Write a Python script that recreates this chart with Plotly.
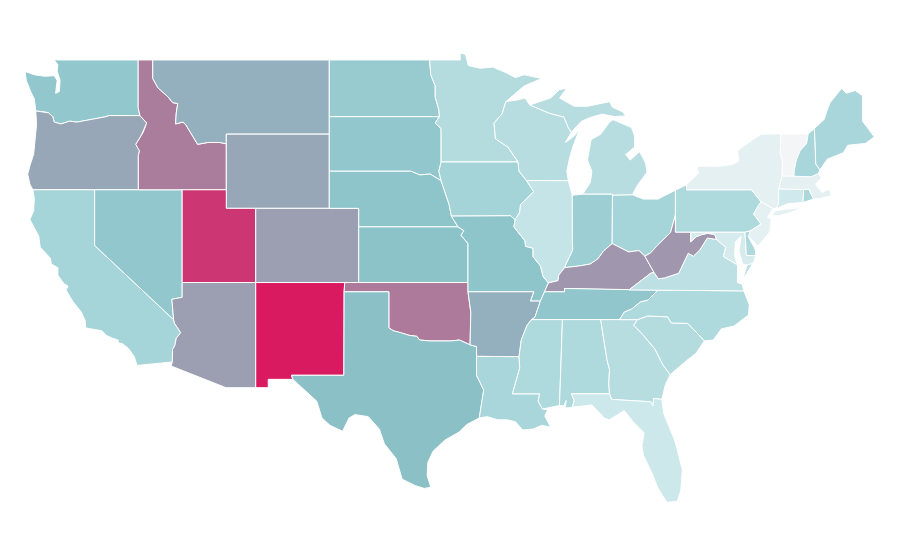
import plotly.graph_objects as go
from plotly.colors import sample_colorscale

# shared state borders as (lon, lat), the base map cannot be fetched offline
wa_north = [(-122.76,49),(-117.04,49)]
wa_coast = [(-122.76,49),(-122.5,48.75),(-122.55,48.4),(-122.35,47.9),(-122.4,47.3),(-122.65,47.2),(-122.55,47.9),(-122.75,48.15),(-123.4,48.12),(-124.1,48.2),(-124.73,48.38),(-124.65,47.9),(-124.35,47.3),(-124.1,46.9),(-124,46.25)]
wa_or = [(-124,46.25),(-123.4,46.2),(-123.15,46.15),(-122.85,45.95),(-122.75,45.65),(-122.3,45.55),(-121.7,45.7),(-121.2,45.65),(-120.6,45.73),(-120,45.82),(-119.3,45.93),(-119,46),(-116.92,46)]
wa_id = [(-117.04,49),(-117.04,46.42),(-116.92,46)]
or_coast = [(-124,46.25),(-123.95,45.5),(-124.05,44.7),(-124.15,43.9),(-124.4,43.3),(-124.55,42.84),(-124.4,42.3),(-124.2,42)]
or_ca = [(-124.2,42),(-120,42)]
or_nv = [(-120,42),(-117.03,42)]
or_id = [(-116.92,46),(-116.46,45.6),(-116.7,45.1),(-116.85,44.9),(-117.2,44.45),(-117.05,44.23),(-116.95,44.1),(-117.03,43.85),(-117.03,42)]
ca_coast = [(-124.2,42),(-124.1,41.5),(-124.15,40.85),(-124.4,40.4),(-124.05,39.9),(-123.8,39.5),(-123.7,38.9),(-123,38.3),(-122.95,38),(-122.5,37.8),(-122.5,37.4),(-122.1,36.95),(-121.8,36.8),(-121.95,36.6),(-121.5,36),(-120.9,35.4),(-120.65,34.95),(-120.6,34.55),(-119.5,34.4),(-119.2,34.15),(-118.8,34),(-118.4,33.9),(-118.4,33.75),(-118.1,33.7),(-117.7,33.45),(-117.3,33),(-117.12,32.53)]
ca_mx = [(-117.12,32.53),(-114.72,32.72)]
ca_az = [(-114.63,35),(-114.57,34.8),(-114.15,34.3),(-114.45,34),(-114.55,33.6),(-114.7,33.4),(-114.72,32.72)]
ca_nv = [(-120,42),(-120,39),(-114.63,35)]
nv_az = [(-114.63,35),(-114.75,36.1),(-114.05,36.2),(-114.05,37)]
nv_ut = [(-114.05,37),(-114.05,42)]
nv_id = [(-117.03,42),(-114.05,42)]
id_north = [(-117.04,49),(-116.05,49)]
id_mt = [(-116.05,49),(-116.05,48),(-115.7,47.5),(-115,47),(-114.7,46.7),(-114.35,46.65),(-114.45,46.15),(-114.5,45.55),(-114,45.65),(-113.8,45.5),(-113.45,45.05),(-113,44.45),(-112.3,44.55),(-111.5,44.55),(-111.05,44.48)]
id_wy = [(-111.05,44.48),(-111.05,42)]
id_ut = [(-114.05,42),(-111.05,42)]
mt_north = [(-116.05,49),(-104.05,49)]
mt_nd = [(-104.05,49),(-104.05,45.94)]
mt_sd = [(-104.05,45.94),(-104.05,45)]
mt_wy = [(-111.05,45),(-104.05,45)]
mt_wy_west = [(-111.05,44.48),(-111.05,45)]
wy_sd = [(-104.05,45),(-104.05,43)]
wy_ne = [(-104.05,43),(-104.05,41)]
wy_co = [(-104.05,41),(-109.05,41)]
wy_ut = [(-109.05,41),(-111.05,41),(-111.05,42)]
ut_co = [(-109.05,41),(-109.05,37)]
ut_az = [(-109.05,37),(-114.05,37)]
co_ne = [(-104.05,41),(-102.05,41),(-102.05,40)]
co_ks = [(-102.05,40),(-102.05,37)]
co_ok = [(-102.05,37),(-103,37)]
co_nm = [(-103,37),(-109.05,37)]
az_nm = [(-109.05,37),(-109.05,31.33)]
az_mx = [(-109.05,31.33),(-111.07,31.33),(-114.8,32.5),(-114.72,32.72)]
nm_ok = [(-103,37),(-103.04,36.5)]
nm_tx = [(-103.04,36.5),(-103.06,32),(-106.62,32),(-106.53,31.78)]
nm_mx = [(-106.53,31.78),(-108.2,31.78),(-108.2,31.33),(-109.05,31.33)]
nd_north = [(-104.05,49),(-97.23,49)]
nd_mn = [(-96.56,45.94),(-96.6,46.3),(-96.85,47),(-96.85,47.6),(-97.15,48.2),(-97.23,49)]
nd_sd = [(-96.56,45.94),(-104.05,45.94)]
sd_mn = [(-96.56,45.94),(-96.85,45.6),(-96.45,45.3),(-96.45,43.5)]
sd_ia = [(-96.45,43.5),(-96.6,43),(-96.45,42.49)]
sd_ne = [(-96.45,42.49),(-97.2,42.85),(-97.9,42.8),(-98.5,43),(-104.05,43)]
ne_ia = [(-96.45,42.49),(-96.1,41.7),(-95.9,41.2),(-95.75,40.58)]
ne_mo = [(-95.75,40.58),(-95.3,40)]
ne_ks = [(-95.3,40),(-102.05,40)]
ks_mo = [(-95.3,40),(-94.9,39.8),(-95.1,39.55),(-94.62,39.1),(-94.62,37)]
ks_ok = [(-94.62,37),(-102.05,37)]
ok_mo = [(-94.62,37),(-94.62,36.5)]
ok_ar = [(-94.62,36.5),(-94.43,35.4),(-94.48,33.64)]
ok_tx = [(-103.04,36.5),(-100,36.5),(-100,34.56),(-99.7,34.4),(-99.2,34.3),(-98.6,34.15),(-98.1,34.1),(-97.9,33.9),(-97.2,33.85),(-96.6,33.85),(-95.8,33.85),(-95.2,33.9),(-94.48,33.64)]
ar_tx = [(-94.48,33.64),(-94.04,33.55),(-94.04,33.02)]
la_tx = [(-94.04,33.02),(-94.04,32),(-93.55,31.2),(-93.7,30.5),(-93.85,29.7)]
tx_coast = [(-93.85,29.7),(-94.7,29.35),(-95.2,28.95),(-96.2,28.5),(-97,27.9),(-97.35,27.3),(-97.4,26.6),(-97.15,25.96)]
tx_mx = [(-97.15,25.96),(-97.6,25.9),(-98.2,26.05),(-99.1,26.4),(-99.5,27.5),(-100.3,28.3),(-100.65,29.1),(-101.4,29.77),(-102.3,29.88),(-102.7,29.7),(-103.15,28.98),(-104,29.3),(-104.55,29.7),(-104.9,30.6),(-106,31.4),(-106.53,31.78)]
mn_north = [(-97.23,49),(-95.15,49),(-95.15,49.38),(-94.8,49.3),(-94.6,48.7),(-93.8,48.55),(-92.95,48.62),(-92,48.3),(-91.4,48.05),(-90.8,48.2),(-89.6,48)]
mn_lake = [(-89.6,48),(-90.8,47.6),(-92.05,46.75)]
mn_wi = [(-92.05,46.75),(-92.3,46.1),(-92.85,45.6),(-92.75,44.75),(-91.9,44.3),(-91.22,43.5)]
mn_ia = [(-91.22,43.5),(-96.45,43.5)]
ia_wi = [(-91.22,43.5),(-91.15,43),(-90.65,42.5)]
ia_il = [(-90.65,42.5),(-90.15,41.9),(-91.05,41.2),(-91.1,40.8),(-91.42,40.38)]
ia_mo = [(-91.42,40.38),(-91.73,40.6),(-95.75,40.58)]
mo_il = [(-91.42,40.38),(-91.5,40),(-90.75,39.25),(-90.7,38.95),(-90.2,38.85),(-90.2,38.4),(-89.7,37.9),(-89.5,37.3),(-89.15,36.98)]
mo_ky = [(-89.15,36.98),(-89.42,36.5)]
mo_tn = [(-89.42,36.5),(-89.7,36)]
mo_ar = [(-89.7,36),(-90.38,36),(-90.15,36.5),(-94.62,36.5)]
ar_tn = [(-89.7,36),(-90.07,35.13),(-90.3,35)]
ar_ms = [(-90.3,35),(-90.6,34.7),(-91,33.9),(-91.15,33)]
ar_la = [(-91.15,33),(-94.04,33.02)]
la_ms = [(-91.15,33),(-91.1,32.4),(-91.6,31),(-89.75,31),(-89.85,30.6),(-89.55,30.18)]
la_coast = [(-89.55,30.18),(-89.2,30.15),(-89.4,29.8),(-89,29.2),(-89.6,29.3),(-90.2,29.1),(-90.9,29.05),(-91.4,29.5),(-92,29.6),(-92.6,29.6),(-93.3,29.77),(-93.85,29.7)]
ms_tn = [(-90.3,35),(-88.2,35)]
ms_al = [(-88.2,35),(-88.4,30.37)]
ms_coast = [(-88.4,30.37),(-89.55,30.18)]
al_tn = [(-88.2,35),(-85.6,35)]
al_ga = [(-85.6,35),(-85.18,32.87),(-85,32.3),(-85.05,31.55),(-85,31)]
al_fl = [(-85,31),(-87.6,31),(-87.4,30.65),(-87.52,30.28)]
al_coast = [(-87.52,30.28),(-88,30.23),(-87.95,30.65),(-88.1,30.35),(-88.4,30.37)]
ga_tn = [(-85.6,35),(-84.32,35)]
ga_nc = [(-84.32,35),(-83.1,35)]
ga_sc = [(-83.1,35),(-83.35,34.7),(-82.75,34.2),(-81.9,33.4),(-81.4,32.6),(-80.88,32.03)]
ga_coast = [(-80.88,32.03),(-81.2,31.5),(-81.45,30.7)]
ga_fl = [(-81.45,30.7),(-82,30.75),(-82.05,30.36),(-82.2,30.57),(-84.86,30.7),(-85,31)]
fl_coast = [(-81.45,30.7),(-81.3,29.9),(-80.6,28.6),(-80.55,28.45),(-80.05,26.9),(-80.15,25.8),(-80.4,25.2),(-81.1,25.15),(-81.7,25.9),(-82.1,26.7),(-82.7,27.7),(-82.8,28.2),(-82.65,28.9),(-83.4,29.5),(-84,30.1),(-85,29.6),(-85.35,29.7),(-86.2,30.4),(-87.52,30.28)]
sc_nc = [(-83.1,35),(-82.4,35.2),(-81.05,35.15),(-80.8,34.82),(-79.68,34.8),(-78.55,33.86)]
sc_coast = [(-78.55,33.86),(-79.1,33.2),(-79.9,32.7),(-80.88,32.03)]
tn_nc = [(-84.32,35),(-84,35.4),(-83.5,35.57),(-82.9,35.95),(-82.4,36.05),(-81.7,36.59)]
nc_va = [(-81.7,36.59),(-75.87,36.55)]
nc_coast = [(-75.87,36.55),(-75.5,35.8),(-75.55,35.25),(-76.55,34.65),(-77.4,34.5),(-77.95,33.9),(-78.55,33.86)]
ky_tn = [(-89.42,36.5),(-88.05,36.5),(-88.05,36.68),(-83.68,36.6)]
tn_va = [(-83.68,36.6),(-81.7,36.59)]
ky_in = [(-84.82,39.1),(-85.4,38.7),(-85.8,38.27),(-86.3,38),(-87,37.9),(-88.05,37.8)]
ky_oh = [(-82.6,38.42),(-83,38.72),(-83.7,38.65),(-84.25,38.85),(-84.82,39.1)]
ky_wv = [(-81.97,37.54),(-82.6,38.42)]
ky_va = [(-83.68,36.6),(-83.1,36.95),(-82.2,37.5),(-81.97,37.54)]
il_ky = [(-88.05,37.8),(-88.45,37.4),(-88.5,37.1),(-89.15,36.98)]
wi_il = [(-90.65,42.5),(-87.8,42.49)]
il_lake = [(-87.8,42.49),(-87.53,41.71)]
il_in = [(-87.53,41.71),(-87.53,39.35),(-87.5,38.75),(-87.95,38),(-88.05,37.8)]
in_lake = [(-87.53,41.71),(-86.82,41.76)]
in_mi = [(-86.82,41.76),(-84.8,41.76),(-84.8,41.7)]
oh_in = [(-84.82,39.1),(-84.8,41.7)]
oh_mi = [(-84.8,41.7),(-83.45,41.73)]
oh_lake = [(-83.45,41.73),(-82.7,41.5),(-81.7,41.5),(-80.52,41.98)]
oh_pa = [(-80.52,41.98),(-80.52,40.64)]
oh_wv = [(-80.52,40.64),(-80.85,39.7),(-81.75,39),(-82.2,38.6),(-82.6,38.42)]
wv_pa = [(-80.52,40.64),(-80.52,39.72),(-79.48,39.72)]
wv_md = [(-79.48,39.72),(-79.48,39.2),(-79.1,39.47),(-78.75,39.58),(-78.35,39.65),(-77.85,39.6),(-77.72,39.32)]
wv_va = [(-77.72,39.32),(-78.35,39.4),(-78.87,38.75),(-79.3,38.42),(-79.65,38.58),(-80.3,37.5),(-81.25,37.25),(-81.68,37.2),(-81.97,37.54)]
va_coast = [(-76.3,37.95),(-76.3,37),(-75.97,36.9),(-75.87,36.55)]
va_shore = [(-75.95,37.15),(-75.65,37.95),(-75.25,38.03)]
md_va = [(-77.72,39.32),(-77.1,38.9),(-77.25,38.4),(-76.3,37.95)]
md_pa = [(-79.48,39.72),(-75.79,39.72)]
md_de = [(-75.79,39.72),(-75.7,38.46),(-75.05,38.45)]
md_coast = [(-75.05,38.45),(-75.25,38.03),(-75.65,37.95),(-75.95,38),(-76.2,38.7),(-76.05,39.5),(-76.45,39.2),(-76.5,38.4),(-76.3,37.95)]
de_pa = [(-75.79,39.72),(-75.4,39.8)]
de_coast = [(-75.4,39.8),(-75.55,39.45),(-75.1,38.8),(-75.05,38.45)]
pa_lake = [(-80.52,41.98),(-79.76,42.27)]
pa_ny = [(-79.76,42.27),(-79.76,42),(-75.35,42),(-74.7,41.36)]
pa_nj = [(-74.7,41.36),(-75,41),(-75.2,40.7),(-74.7,40.15),(-75.4,39.8)]
ny_nj = [(-74.7,41.36),(-73.9,41)]
nj_coast = [(-73.9,41),(-74.25,40.5),(-74,40.45),(-74.1,39.75),(-74.9,38.95),(-75.55,39.5),(-75.4,39.8)]
ny_north = [(-79.76,42.27),(-78.95,42.9),(-79.05,43.27),(-77.6,43.27),(-76.7,43.35),(-76.2,43.55),(-76.3,44.1),(-75.8,44.4),(-74.7,45),(-73.35,45.01)]
ny_vt = [(-73.35,45.01),(-73.4,44),(-73.25,43.6),(-73.27,42.75)]
ny_ma = [(-73.27,42.75),(-73.5,42.05)]
ny_ct = [(-73.5,42.05),(-73.5,41.3),(-73.65,41)]
ny_south = [(-73.65,41),(-73.9,41)]
long_island = [(-74,40.6),(-73.7,40.88),(-72.6,40.98),(-71.9,41.05),(-72.6,40.8),(-73.5,40.6)]
ma_ct = [(-73.5,42.05),(-71.8,42.02)]
ct_ri = [(-71.8,42.02),(-71.85,41.32)]
ct_coast = [(-71.85,41.32),(-72.9,41.25),(-73.65,41)]
ma_ri = [(-71.8,42.02),(-71.38,42.02),(-71.38,41.9),(-71.12,41.5)]
ri_coast = [(-71.12,41.5),(-71.85,41.32)]
vt_ma = [(-73.27,42.75),(-72.46,42.73)]
nh_ma = [(-72.46,42.73),(-71.3,42.7),(-70.82,42.87)]
ma_coast = [(-70.82,42.87),(-70.6,42.65),(-71,42.3),(-70.55,41.85),(-70.05,42.05),(-69.95,41.67),(-70.65,41.55),(-71.12,41.5)]
vt_north = [(-73.35,45.01),(-71.5,45.01)]
vt_nh = [(-71.5,45.01),(-71.6,44.5),(-72.05,44.1),(-72.3,43.6),(-72.45,43),(-72.46,42.73)]
nh_north = [(-71.5,45.01),(-71.08,45.3)]
nh_me = [(-71.08,45.3),(-71.03,44.65),(-70.98,43.4),(-70.7,43.07)]
nh_coast = [(-70.7,43.07),(-70.82,42.87)]
me_outer = [(-71.08,45.3),(-70.4,45.8),(-70.25,46.2),(-70,46.7),(-69.23,47.46),(-68.9,47.2),(-68.3,47.35),(-67.8,47.07),(-67.8,45.7),(-67.45,45.3),(-67,44.85),(-67.6,44.5),(-68.8,44.4),(-69.1,44),(-70.2,43.65),(-70.7,43.07)]
wi_lake_n = [(-92.05,46.75),(-91.2,46.85),(-90.75,46.95),(-90.42,46.57)]
wi_mi = [(-90.42,46.57),(-89.1,46.13),(-88.1,45.92),(-87.8,45.35),(-87.6,45.1)]
wi_lake_e = [(-87.6,45.1),(-88,44.55),(-87.4,44.9),(-87.05,45.25),(-87.5,44.3),(-87.75,43.6),(-87.9,43),(-87.8,42.49)]
mi_upper = [(-90.42,46.57),(-89,46.95),(-88.4,47.4),(-87.9,47.47),(-88.4,46.95),(-87.4,46.5),(-86.5,46.5),(-85,46.75),(-84.8,46.45),(-84.1,46.2),(-83.9,45.98),(-84.7,45.95),(-85.5,46.08),(-86.3,45.9),(-86.9,45.7),(-87.6,45.1)]
mi_lower = [(-86.82,41.76),(-86.3,42.4),(-86.2,43),(-86.5,43.6),(-86.25,44.7),(-85.6,45),(-85,45.65),(-84.75,45.78),(-83.5,45.35),(-83.3,44.9),(-83.3,44.3),(-83.9,43.9),(-83.6,43.6),(-82.95,44.05),(-82.55,43.45),(-82.45,42.95),(-83.1,42.25),(-83.45,41.73)]


def r(chain):
    return chain[::-1]


# outline of each state, walked border by border
outlines = {
    "WA": [[wa_north, wa_id, r(wa_or), r(wa_coast)]],
    "OR": [[wa_or, or_id, r(or_nv), r(or_ca), r(or_coast)]],
    "CA": [[ca_nv, ca_az, r(ca_mx), r(ca_coast), or_ca]],
    "NV": [[or_nv, nv_id, r(nv_ut), r(nv_az), r(ca_nv)]],
    "ID": [[id_north, id_mt, id_wy, r(id_ut), r(nv_id), r(or_id), r(wa_id)]],
    "MT": [[mt_north, mt_nd, mt_sd, r(mt_wy), r(mt_wy_west), r(id_mt)]],
    "WY": [[mt_wy, wy_sd, wy_ne, wy_co, wy_ut, r(id_wy), mt_wy_west]],
    "UT": [[id_ut, r(wy_ut), ut_co, ut_az, nv_ut]],
    "CO": [[r(wy_co), co_ne, co_ks, co_ok, co_nm, r(ut_co)]],
    "AZ": [[r(ut_az), az_nm, az_mx, r(ca_az), nv_az]],
    "NM": [[r(co_nm), nm_ok, nm_tx, nm_mx, r(az_nm)]],
    "ND": [[nd_north, r(nd_mn), nd_sd, r(mt_nd)]],
    "SD": [[r(nd_sd), sd_mn, sd_ia, sd_ne, r(wy_sd), r(mt_sd)]],
    "NE": [[r(sd_ne), ne_ia, ne_mo, ne_ks, r(co_ne), r(wy_ne)]],
    "KS": [[r(ne_ks), ks_mo, ks_ok, r(co_ks)]],
    "OK": [[r(co_ok), r(ks_ok), ok_mo, ok_ar, r(ok_tx), r(nm_ok)]],
    "TX": [[ok_tx, ar_tx, la_tx, tx_coast, tx_mx, r(nm_tx)]],
    "MN": [[mn_north, mn_lake, mn_wi, mn_ia, r(sd_mn), nd_mn]],
    "IA": [[r(mn_ia), ia_wi, ia_il, ia_mo, r(ne_ia), r(sd_ia)]],
    "MO": [[r(ia_mo), mo_il, mo_ky, mo_tn, mo_ar, r(ok_mo), r(ks_mo), r(ne_mo)]],
    "AR": [[r(mo_ar), ar_tn, ar_ms, ar_la, r(ar_tx), r(ok_ar)]],
    "LA": [[r(ar_la), la_ms, la_coast, r(la_tx)]],
    "WI": [[wi_lake_n, wi_mi, wi_lake_e, r(wi_il), r(ia_wi), r(mn_wi)]],
    "IL": [[wi_il, il_lake, il_in, il_ky, r(mo_il), r(ia_il)]],
    "MI": [[r(wi_mi), mi_upper], [mi_lower, r(oh_mi), r(in_mi)]],
    "IN": [[in_lake, in_mi, r(oh_in), ky_in, r(il_in)]],
    "OH": [[oh_in, oh_mi, oh_lake, oh_pa, oh_wv, ky_oh]],
    "KY": [[ky_oh, ky_in, il_ky, mo_ky, ky_tn, ky_va, ky_wv]],
    "TN": [[ky_tn, tn_va, r(tn_nc), r(ga_tn), r(al_tn), r(ms_tn), r(ar_tn), r(mo_tn)]],
    "MS": [[ms_tn, ms_al, ms_coast, r(la_ms), r(ar_ms)]],
    "AL": [[al_tn, al_ga, al_fl, al_coast, r(ms_al)]],
    "GA": [[ga_tn, ga_nc, ga_sc, ga_coast, ga_fl, r(al_ga)]],
    "FL": [[r(ga_fl), fl_coast, r(al_fl)]],
    "SC": [[sc_nc, sc_coast, r(ga_sc)]],
    "NC": [[tn_nc, nc_va, nc_coast, r(sc_nc), r(ga_nc)]],
    "VA": [[tn_va, nc_va, r(va_coast), r(md_va), wv_va, r(ky_va)], [va_shore]],
    "WV": [[r(oh_wv), wv_pa, wv_md, wv_va, ky_wv]],
    "MD": [[md_pa, md_de, md_coast, r(md_va), r(wv_md)]],
    "DE": [[r(md_de), de_pa, de_coast]],
    "PA": [[pa_lake, pa_ny, pa_nj, r(de_pa), r(md_pa), r(wv_pa), r(oh_pa)]],
    "NJ": [[ny_nj, nj_coast, r(pa_nj)]],
    "NY": [[r(pa_ny), ny_north, ny_vt, ny_ma, ny_ct, ny_south, r(ny_nj)], [long_island]],
    "CT": [[ma_ct, ct_ri, ct_coast, r(ny_ct)]],
    "RI": [[ma_ri, ri_coast, r(ct_ri)]],
    "MA": [[r(ny_ma), vt_ma, nh_ma, ma_coast, r(ma_ri), r(ma_ct)]],
    "VT": [[vt_north, vt_nh, r(vt_ma), r(ny_vt)]],
    "NH": [[nh_north, nh_me, nh_coast, r(nh_ma), r(vt_nh)]],
    "ME": [[me_outer, r(nh_me)]],
}

states = ["WA","OR","CA","NV","ID","MT","WY","UT","CO","AZ","NM","ND","SD","NE","KS","OK","TX",
          "MN","IA","MO","AR","LA","WI","IL","MI","IN","OH","KY","TN","MS","AL","GA","FL","SC","NC",
          "VA","WV","MD","DE","PA","NJ","NY","CT","RI","MA","VT","NH","ME"]
values = [37,50,29,37,65,47,50,90,53,53,100,35,37,39,40,66,41,
          24,30,39,47,28,23,18,23,33,29,56,38,26,26,23,15,24,26,
          21,56,12,26,26,6,6,14,27,6,0,28,28]

colorscale = [[0, "#f4f5f7"], [0.15, "#cde8eb"], [0.29, "#a6d5d9"], [0.4, "#8bc3c9"], [1, "#d91a60"]]

fig = go.Figure()
for st, val in zip(states, values):
    lons, lats = [], []
    for parts in outlines[st]:
        for part in parts:
            lons += [p[0] for p in part]
            lats += [p[1] for p in part]
        lons += [parts[0][0][0], None]
        lats += [parts[0][0][1], None]
    fig.add_trace(go.Scatter(
        x=lons[:-1],
        y=lats[:-1],
        mode="lines",
        fill="toself",
        fillcolor=sample_colorscale(colorscale, val / 100)[0],
        line=dict(color="white", width=1),
        name=st,
        showlegend=False,
    ))

# plain lon/lat axes, the reference has no map projection
fig.update_xaxes(visible=False, range=[-125.89, -64.71])
fig.update_yaxes(visible=False, range=[21.61, 51.80])
fig.update_layout(width=900, height=560, margin=dict(l=0, r=0, t=0, b=0),
                  paper_bgcolor="white", plot_bgcolor="white")
fig.write_html("out.html")
